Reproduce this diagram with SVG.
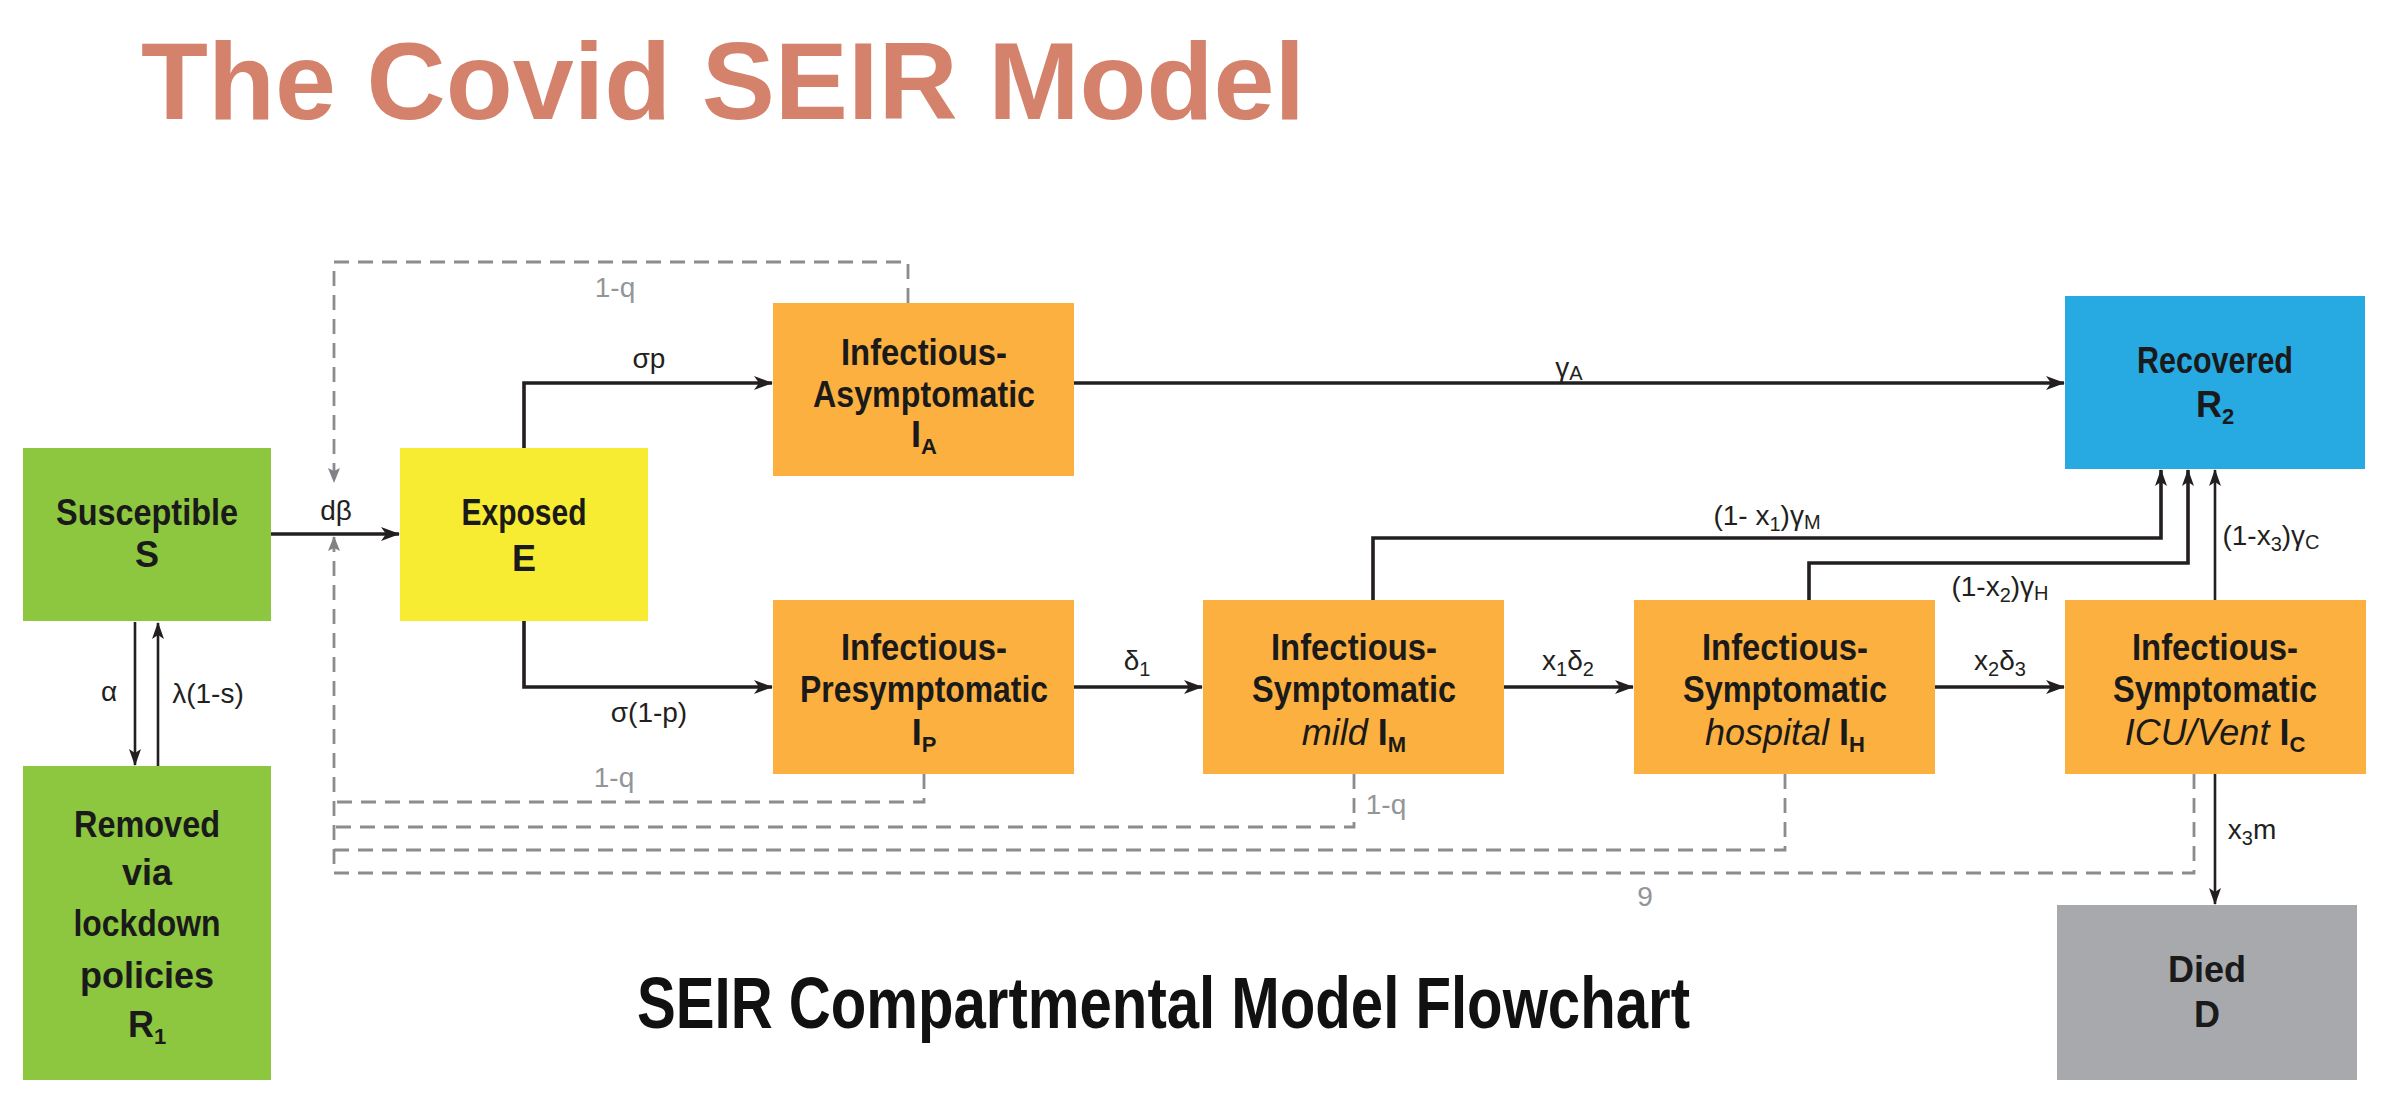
<svg xmlns="http://www.w3.org/2000/svg" width="2384" height="1112" viewBox="0 0 2384 1112">
<style>
.bx{font-family:"Liberation Sans",Arial,sans-serif;font-weight:700;font-size:36px;fill:#1a1a1a;text-anchor:middle}
.it{font-style:italic;font-weight:400}
.lb{font-family:"Liberation Sans",Arial,sans-serif;font-size:28px;fill:#231F20;text-anchor:middle}
.gl{font-family:"Liberation Sans",Arial,sans-serif;font-size:28px;fill:#939598;text-anchor:middle}
.sub{font-size:20px}
.bsub{font-size:22px}
.thick{fill:none;stroke:#231F20;stroke-width:3.6}
.thin{fill:none;stroke:#231F20;stroke-width:2.6}
.dash{fill:none;stroke:#8a8c8e;stroke-width:2.8;stroke-dasharray:15 9}
</style>
<defs>
<marker id="ah" markerUnits="userSpaceOnUse" markerWidth="20" markerHeight="16" refX="18" refY="8" orient="auto">
<path d="M0,1 L19,8 L0,15 L5,8 z" fill="#231F20"/>
</marker>
<marker id="ahs" markerUnits="userSpaceOnUse" markerWidth="18" markerHeight="14" refX="16" refY="7" orient="auto">
<path d="M0,1 L17,7 L0,13 L4,7 z" fill="#231F20"/>
</marker>
<marker id="ahg" markerUnits="userSpaceOnUse" markerWidth="16" markerHeight="14" refX="14" refY="7" orient="auto">
<path d="M0,1 L15,7 L0,13 L3,7 z" fill="#808285"/>
</marker>
</defs>
<rect width="2384" height="1112" fill="#ffffff"/>
<text x="141" y="119" font-family="'Liberation Sans',Arial,sans-serif" font-weight="700" font-size="109" fill="#D4826C" textLength="1164" lengthAdjust="spacingAndGlyphs">The Covid SEIR Model</text>
<text x="637" y="1028" font-family="'Liberation Sans',Arial,sans-serif" font-weight="700" font-size="72" fill="#111111" textLength="1053" lengthAdjust="spacingAndGlyphs">SEIR Compartmental Model Flowchart</text>

<g id="connectors">
<path class="dash" d="M908,303 V262 H334 V482" marker-end="url(#ahg)"/>
<path class="dash" d="M924,774 V802 H334"/>
<path class="dash" d="M1354,774 V827 H334"/>
<path class="dash" d="M1785,774 V850 H334"/>
<path class="dash" d="M2194,774 V873 H334 V537" marker-end="url(#ahg)"/>
<path class="thick" d="M271,534 H399" marker-end="url(#ah)"/>
<path class="thick" d="M524,448 V383 H772" marker-end="url(#ah)"/>
<path class="thick" d="M524,621 V687 H772" marker-end="url(#ah)"/>
<path class="thick" d="M1074,383 H2064" marker-end="url(#ah)"/>
<path class="thick" d="M1074,687 H1202" marker-end="url(#ah)"/>
<path class="thick" d="M1504,687 H1633" marker-end="url(#ah)"/>
<path class="thick" d="M1935,687 H2064" marker-end="url(#ah)"/>
<path class="thick" d="M1373,600 V538 H2161 V470" marker-end="url(#ahs)"/>
<path class="thick" d="M1809,600 V563 H2188 V470" marker-end="url(#ahs)"/>
<path class="thin" d="M2215,600 V470" marker-end="url(#ahs)"/>
<path class="thin" d="M2215,774 V904" marker-end="url(#ahs)"/>
<path class="thin" d="M135,622 V765" marker-end="url(#ahs)"/>
<path class="thin" d="M158,766 V623" marker-end="url(#ahs)"/>
<text class="lb" x="336" y="520">dβ</text>
<text class="lb" x="649" y="368">σp</text>
<text class="lb" x="1569" y="377">γ<tspan class="sub" dy="3">A</tspan></text>
<text class="lb" x="649" y="722">σ(1-p)</text>
<text class="lb" x="1137" y="670">δ<tspan class="sub" dy="6">1</tspan></text>
<text class="lb" x="1568" y="670">x<tspan class="sub" dy="6">1</tspan><tspan dy="-6">δ</tspan><tspan class="sub" dy="6">2</tspan></text>
<text class="lb" x="2000" y="670">x<tspan class="sub" dy="6">2</tspan><tspan dy="-6">δ</tspan><tspan class="sub" dy="6">3</tspan></text>
<text class="lb" x="1767" y="525">(1- x<tspan class="sub" dy="6">1</tspan><tspan dy="-6">)γ</tspan><tspan class="sub" dy="4">M</tspan></text>
<text class="lb" x="2000" y="596">(1-x<tspan class="sub" dy="6">2</tspan><tspan dy="-6">)γ</tspan><tspan class="sub" dy="4">H</tspan></text>
<text class="lb" x="2271" y="545">(1-x<tspan class="sub" dy="6">3</tspan><tspan dy="-6">)γ</tspan><tspan class="sub" dy="4">C</tspan></text>
<text class="lb" x="2252" y="839">x<tspan class="sub" dy="6">3</tspan><tspan dy="-6">m</tspan></text>
<text class="lb" x="109" y="701">α</text>
<text class="lb" x="208" y="703">λ(1-s)</text>
<text class="gl" x="615" y="297">1-q</text>
<text class="gl" x="614" y="787">1-q</text>
<text class="gl" x="1386" y="814">1-q</text>
<text class="gl" x="1645" y="906">9</text>
</g>

<g id="node-S">
<rect x="23" y="448" width="248" height="173" fill="#8DC63F"/>
<text class="bx" x="147" y="525" textLength="182" lengthAdjust="spacingAndGlyphs">Susceptible</text>
<text class="bx" x="147" y="567">S</text>
</g>
<g id="node-E">
<rect x="400" y="448" width="248" height="173" fill="#F7EC31"/>
<text class="bx" x="524" y="525" textLength="125" lengthAdjust="spacingAndGlyphs">Exposed</text>
<text class="bx" x="524" y="571">E</text>
</g>
<g id="node-IA">
<rect x="773" y="303" width="301" height="173" fill="#FBB040"/>
<text class="bx" x="924" y="365" textLength="166" lengthAdjust="spacingAndGlyphs">Infectious-</text>
<text class="bx" x="924" y="407" textLength="222" lengthAdjust="spacingAndGlyphs">Asymptomatic</text>
<text class="bx" x="924" y="447">I<tspan class="bsub" dy="7">A</tspan></text>
</g>
<g id="node-R2">
<rect x="2065" y="296" width="300" height="173" fill="#27AAE1"/>
<text class="bx" x="2215" y="373" textLength="156" lengthAdjust="spacingAndGlyphs">Recovered</text>
<text class="bx" x="2215" y="417">R<tspan class="bsub" dy="7">2</tspan></text>
</g>
<g id="node-IP">
<rect x="773" y="600" width="301" height="174" fill="#FBB040"/>
<text class="bx" x="924" y="660" textLength="166" lengthAdjust="spacingAndGlyphs">Infectious-</text>
<text class="bx" x="924" y="702" textLength="248" lengthAdjust="spacingAndGlyphs">Presymptomatic</text>
<text class="bx" x="924" y="745">I<tspan class="bsub" dy="7">P</tspan></text>
</g>
<g id="node-IM">
<rect x="1203" y="600" width="301" height="174" fill="#FBB040"/>
<text class="bx" x="1354" y="660" textLength="166" lengthAdjust="spacingAndGlyphs">Infectious-</text>
<text class="bx" x="1354" y="702" textLength="204" lengthAdjust="spacingAndGlyphs">Symptomatic</text>
<text class="bx" x="1354" y="745"><tspan class="it">mild</tspan> I<tspan class="bsub" dy="7">M</tspan></text>
</g>
<g id="node-IH">
<rect x="1634" y="600" width="301" height="174" fill="#FBB040"/>
<text class="bx" x="1785" y="660" textLength="166" lengthAdjust="spacingAndGlyphs">Infectious-</text>
<text class="bx" x="1785" y="702" textLength="204" lengthAdjust="spacingAndGlyphs">Symptomatic</text>
<text class="bx" x="1785" y="745"><tspan class="it">hospital</tspan> I<tspan class="bsub" dy="7">H</tspan></text>
</g>
<g id="node-IC">
<rect x="2065" y="600" width="301" height="174" fill="#FBB040"/>
<text class="bx" x="2215" y="660" textLength="166" lengthAdjust="spacingAndGlyphs">Infectious-</text>
<text class="bx" x="2215" y="702" textLength="204" lengthAdjust="spacingAndGlyphs">Symptomatic</text>
<text class="bx" x="2215" y="745"><tspan class="it">ICU/Vent</tspan> I<tspan class="bsub" dy="7">C</tspan></text>
</g>
<g id="node-R1">
<rect x="23" y="766" width="248" height="314" fill="#8DC63F"/>
<text class="bx" x="147" y="837" textLength="146" lengthAdjust="spacingAndGlyphs">Removed</text>
<text class="bx" x="147" y="885">via</text>
<text class="bx" x="147" y="936" textLength="147" lengthAdjust="spacingAndGlyphs">lockdown</text>
<text class="bx" x="147" y="988">policies</text>
<text class="bx" x="147" y="1037">R<tspan class="bsub" dy="7">1</tspan></text>
</g>
<g id="node-D">
<rect x="2057" y="905" width="300" height="175" fill="#A7A9AC"/>
<text class="bx" x="2207" y="982">Died</text>
<text class="bx" x="2207" y="1027">D</text>
</g>
</svg>
